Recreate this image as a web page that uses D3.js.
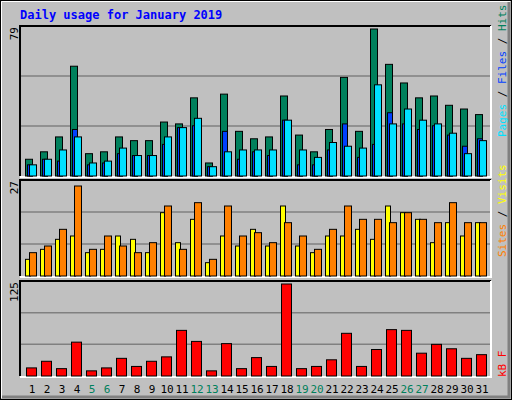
<!DOCTYPE html>
<html><head><meta charset="utf-8">
<script src="https://cdn.jsdelivr.net/npm/d3@7"></script>
<style>body{margin:0;background:#fff}</style>
</head><body><div id="chart"></div>
<script>
const days = d3.range(1, 32)
const weekend = [5, 6, 12, 13, 19, 20, 26, 27]
const hits = [9,13,21,59,12,13,21,19,19,29,28,42,7,44,24,20,21,43,22,13,25,53,24,79,60,50,42,43,38,36,33]
const files = [6,9,8,25,6,7,12,11,11,17,26,27,5,24,9,13,11,30,6,6,14,28,10,17,34,28,25,27,22,16,20]
const pages = [6,9,14,21,7,8,15,11,11,21,26,31,5,13,14,14,14,30,14,10,18,16,15,49,28,36,30,28,23,12,19]
const sites = [5,8,11,12,7,8,12,11,7,19,10,17,4,12,9,14,9,21,9,7,12,12,14,11,21,19,17,10,16,12,16]
const visits = [7,9,14,27,8,12,9,7,10,21,8,22,5,21,12,13,10,16,12,8,14,21,17,17,16,19,17,16,22,16,16]
const kbytes = [11,20,10,46,7,11,24,13,20,26,62,47,7,44,10,25,13,125,10,13,22,58,13,36,63,62,31,43,37,24,29]

const W = 512, H = 400
const svg = d3.select("#chart").append("svg").attr("width", W).attr("height", H)
    .style("font-family", "'DejaVu Sans Mono', monospace")

// background and 3D border
svg.append("rect").attr("width", W).attr("height", H).attr("fill", "#c0c0c0")
svg.append("rect").attr("x", 0.5).attr("y", 0.5).attr("width", W - 1).attr("height", H - 1)
    .attr("fill", "none").attr("stroke", "#000")
svg.append("path").attr("d", `M1.5,${H-2} V1.5 H${W-2}`).attr("fill", "none").attr("stroke", "#fff")
svg.append("path").attr("d", `M2,${H-3} H${W-3} V2`).attr("fill", "none").attr("stroke", "#808080").attr("stroke-width", 3)

svg.append("text").attr("x", 20).attr("y", 19).attr("fill", "#0000ff")
    .attr("font-weight", "bold").attr("font-size", 12).text("Daily usage for January 2019")

const x = d3.scaleBand().domain(days).range([22, 22 + 31 * 15])
const left = 20, right = 491

function panel(top, bottom, maxTop, max, label) {
    svg.append("path").attr("d", `M${left},${bottom} V${top} H${right}`)
        .attr("fill", "none").attr("stroke", "#000").attr("stroke-width", 2)
    svg.append("path").attr("d", `M${left},${bottom+1} H${right} V${top}`)
        .attr("fill", "none").attr("stroke", "#fff").attr("stroke-width", 2)
    const h = bottom - top
    for (const f of [1/3, 2/3]) {
        svg.append("line").attr("x1", left + 1).attr("x2", right - 1)
            .attr("y1", bottom - h * f).attr("y2", bottom - h * f)
            .attr("stroke", "#808080").attr("stroke-width", 1.5)
    }
    svg.append("text").attr("transform", `translate(18,${top + 1}) rotate(-90)`)
        .attr("text-anchor", "end").attr("font-size", 11).text(label)
    return d3.scaleLinear().domain([0, max]).range([bottom, maxTop])
}

function bars(y, data, dx, w, color) {
    svg.append("g").selectAll("rect").data(data).join("rect")
        .attr("x", (d, i) => x(days[i]) + dx).attr("width", w)
        .attr("y", d => y(d)).attr("height", d => y(0) - y(d))
        .attr("fill", color).attr("stroke", "#000").attr("stroke-width", 1)
}

const y1 = panel(26, 176, 29, 79, "79")
bars(y1, hits, 3.5, 7, "#00805c")
bars(y1, files, 5.5, 5, "#0040ff")
bars(y1, pages, 7.5, 7, "#00e0ff")

const y2 = panel(180, 276, 186, 27, "27")
bars(y2, sites, 3.5, 5, "#ffff00")
bars(y2, visits, 7.5, 7, "#ff8000")

const y3 = panel(281, 376, 284, 125, "125")
bars(y3, kbytes, 4.5, 10, "#ff0000")

svg.append("g").selectAll("text").data(days).join("text")
    .attr("x", d => x(d) + 10).attr("y", 393).attr("text-anchor", "middle")
    .attr("font-size", 11)
    .attr("fill", d => weekend.includes(d) ? "#00805c" : "#000").text(d => d)

function sideLabel(y, parts) {
    const t = svg.append("text").attr("transform", `translate(506,${y}) rotate(-90)`)
        .attr("font-size", 11)
    parts.forEach(([s, c]) => t.append("tspan").attr("fill", c).text(s))
}
sideLabel(137, [["Pages", "#00e0ff"], [" / ", "#000"], ["Files", "#0040ff"], [" / ", "#000"], ["Hits", "#00805c"]])
sideLabel(257, [["Sites", "#ff8000"], [" / ", "#000"], ["Visits", "#ffff00"]])
sideLabel(377, [["kB F", "#ff0000"]])
</script></body></html>
